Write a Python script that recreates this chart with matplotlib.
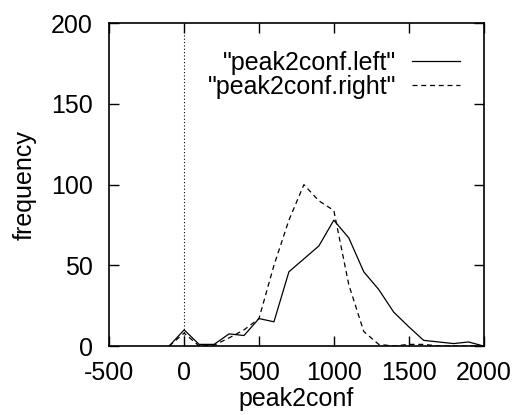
import matplotlib
matplotlib.use("Agg")
import matplotlib.pyplot as plt

x_vals = [-100, 0, 100, 200, 300, 400, 500, 600, 700, 800, 900, 1000,
          1100, 1200, 1300, 1400, 1500, 1600, 1700, 1800, 1900, 2000]
left_vals = [0, 10, 1, 1, 7.5, 6.5, 17, 15, 46, 54, 62, 78,
             67, 46, 35, 21, 12, 3.5, 2.5, 1.5, 2.5, 0]
right_vals = [0, 8, 0, 0.5, 5, 10, 17, 50, 78, 100, 90, 84,
              38, 9, 1, 0, 1, 1, 0, 0, 0, 0]
x_ticks = [-500, 0, 500, 1000, 1500, 2000]
y_ticks = [0, 50, 100, 150, 200]
labels = ['"peak2conf.left"', '"peak2conf.right"']

plt.rcParams['font.family'] = ['Liberation Sans', 'DejaVu Sans']
plt.rcParams['axes.unicode_minus'] = False

fs = 18
fig = plt.figure(figsize=(5.23, 4.15), dpi=100)
ax = fig.add_axes([109.3/523, 1-346/415, (483.5-109.3)/523, (346-23.3)/415])

ax.axvline(0, color='black', lw=0.8, ls=(0, (1, 2)))
ax.plot(x_vals, left_vals, color='black', lw=0.9, label=labels[0])
ax.plot(x_vals, right_vals, color='black', lw=0.9, ls=(0, (4, 3)), label=labels[1])

ax.set_xlim(-500, 2000)
ax.set_ylim(0, 200)
ax.set_xticks(x_ticks)
ax.set_yticks(y_ticks)
ax.tick_params(direction='in', length=7, width=1.0, top=True, right=True,
               labelsize=fs)
ax.tick_params(axis='x', pad=11)
ax.tick_params(axis='y', pad=12)
for s in ax.spines.values():
    s.set_linewidth(1.2)
ax.set_xlabel('peak2conf', fontsize=fs, labelpad=1)
ax.set_ylabel('frequency', fontsize=fs, labelpad=10)

ax.legend(loc='upper right', markerfirst=False, frameon=False, fontsize=fs,
          handlelength=1.9, handletextpad=0.65, labelspacing=0.0,
          bbox_to_anchor=(0.937, 0.915), borderaxespad=0, borderpad=0)

fig.savefig('out.png', dpi=100)
